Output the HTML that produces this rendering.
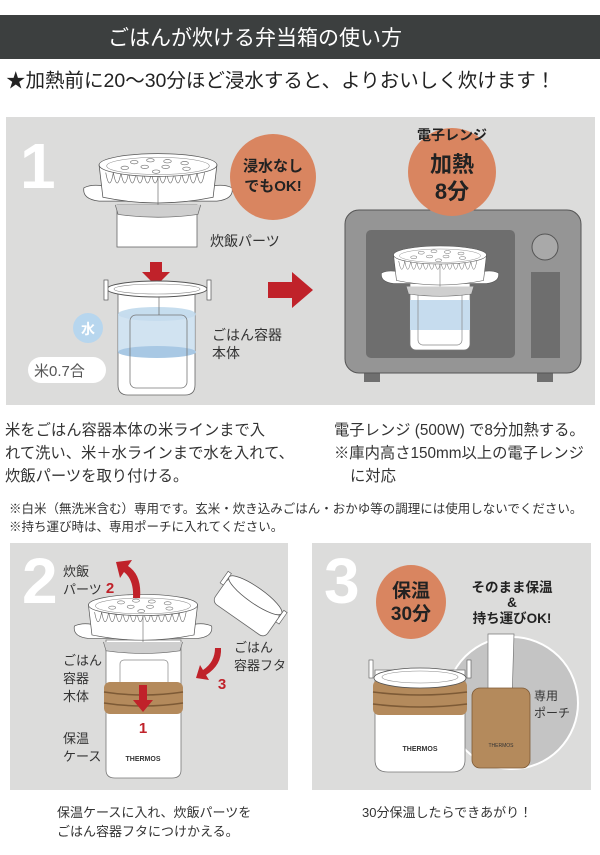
<!DOCTYPE html>
<html><head><meta charset="utf-8"><style>
html,body{margin:0;padding:0;background:#fff;}
svg{display:block;font-family:"Liberation Sans","Noto Sans CJK JP",sans-serif;}
</style></head><body>
<svg width="600" height="855" viewBox="0 0 600 855" xmlns="http://www.w3.org/2000/svg">
<defs>
<g id="st">
  <path d="M-78,24 Q-80,36 -62,38 L62,38 Q80,36 78,24 Q70,20 58,22 L-58,22 Q-70,20 -78,24Z" fill="#fff" stroke="#555" stroke-width="0.8"/>
  <path d="M-62,0 L-58,34 Q0,46 58,34 L62,0Z" fill="#fff" stroke="#555" stroke-width="0.8"/>
  <path d="M-55,8 q4,22 8,0 q4,22 8,0 q4,22 8,0 q4,22 8,0 q4,22 8,0 q4,22 8,0 q4,22 8,0 q4,22 8,0 q4,22 8,0 q4,22 8,0 q4,22 8,0 q4,22 8,0 q4,22 8,0" fill="none" stroke="#666" stroke-width="0.7"/>
  <line x1="0" y1="10" x2="0" y2="42" stroke="#666" stroke-width="0.7"/>
  <ellipse cx="0" cy="0" rx="62" ry="12" fill="#fff" stroke="#555" stroke-width="0.8"/>
  <ellipse cx="0" cy="1" rx="54" ry="9" fill="none" stroke="#888" stroke-width="0.6"/>
  <g fill="none" stroke="#777" stroke-width="0.7">
   <ellipse cx="-25" cy="-3" rx="4" ry="1.8"/><ellipse cx="-8" cy="-5" rx="4" ry="1.8"/><ellipse cx="10" cy="-4" rx="4" ry="1.8"/><ellipse cx="28" cy="-2" rx="4" ry="1.8"/>
   <ellipse cx="-35" cy="3" rx="4" ry="1.8"/><ellipse cx="-14" cy="2" rx="4" ry="1.8"/><ellipse cx="8" cy="2" rx="4" ry="1.8"/><ellipse cx="30" cy="4" rx="4" ry="1.8"/>
   <ellipse cx="-2" cy="7" rx="4" ry="1.8"/>
  </g>
  <path d="M-45,42 L-42,52 Q0,58 42,52 L45,42" fill="#cfcfcf" stroke="#666" stroke-width="0.7"/>
</g>
</defs>

<rect x="0" y="15" width="600" height="44" fill="#3c3f3f"/>
<text x="108" y="45" fill="#fff" font-size="21">ごはんが炊ける弁当箱の使い方</text>
<text x="6" y="87" fill="#222" font-size="19.5">★加熱前に20～30分ほど浸水すると、よりおいしく炊けます！</text>

<rect x="6" y="117" width="589" height="288" fill="#dcdcdb"/>
<text x="20" y="188" fill="#fff" font-size="64" font-weight="bold">1</text>
<rect x="117" y="205" width="80" height="42" fill="#fff" stroke="#666" stroke-width="0.8"/>
<rect x="117" y="205" width="80" height="6" fill="#6b5a44"/>
<use href="#st" transform="translate(158,165) scale(0.95)"/>
<text x="210" y="246" font-size="14" fill="#333">炊飯パーツ</text>
<circle cx="273" cy="177" r="43" fill="#d98560"/>
<text x="273" y="171" font-size="15" font-weight="bold" text-anchor="middle" fill="#222">浸水なし</text>
<text x="273" y="191" font-size="15" font-weight="bold" text-anchor="middle" fill="#222">でもOK!</text>
<path d="M150,262 L162,262 L162,272 L170,272 L156,286 L142,272 L150,272Z" fill="#c0222a"/>
<path d="M118,292 L118,385 Q118,395 128,395 L185,395 Q195,395 195,385 L195,292" fill="#fff" stroke="#666" stroke-width="0.8"/>
<ellipse cx="157" cy="314" rx="39" ry="7" fill="#b8d4ea" opacity="0.8"/>
<rect x="118" y="314" width="77" height="38" fill="#c6dcee" opacity="0.8"/>
<ellipse cx="157" cy="352" rx="39" ry="6" fill="#a8c8e4"/>
<rect x="130" y="315" width="57" height="73" rx="6" fill="none" stroke="#777" stroke-width="0.8"/>
<ellipse cx="157" cy="289" rx="50" ry="8" fill="#fff" stroke="#555" stroke-width="1"/>
<ellipse cx="157" cy="289" rx="43" ry="5" fill="none" stroke="#888" stroke-width="0.6"/>
<rect x="104" y="280" width="4" height="20" fill="#fff" stroke="#555" stroke-width="0.7"/>
<rect x="207" y="280" width="4" height="20" fill="#fff" stroke="#555" stroke-width="0.7"/>
<line x1="159" y1="297" x2="159" y2="315" stroke="#666" stroke-width="0.7"/>
<circle cx="88" cy="328" r="15" fill="#b7d6ee"/>
<text x="88" y="334" font-size="14" font-weight="bold" text-anchor="middle" fill="#fff">水</text>
<rect x="28" y="357" width="78" height="26" rx="13" fill="#fff"/>
<text x="34" y="376" font-size="15" fill="#555">米0.7合</text>
<text x="212" y="340" font-size="14" fill="#333">ごはん容器</text>
<text x="212" y="358" font-size="14" fill="#333">本体</text>
<path d="M268,282 L292,282 L292,272 L313,290 L292,308 L292,298 L268,298Z" fill="#c0222a"/>
<rect x="364" y="368" width="16" height="14" fill="#6f6f6f"/>
<rect x="537" y="368" width="16" height="14" fill="#6f6f6f"/>
<rect x="345" y="210" width="236" height="163" rx="14" fill="#959595" stroke="#555" stroke-width="1"/>
<rect x="366" y="230" width="149" height="128" rx="5" fill="#6e6e6e"/>
<circle cx="545" cy="247" r="13" fill="#a9a9a9" stroke="#555" stroke-width="1"/>
<rect x="531" y="272" width="29" height="86" fill="#6e6e6e"/>
<rect x="410" y="272" width="60" height="78" rx="6" fill="#fff" stroke="#777" stroke-width="0.7"/>
<rect x="410" y="300" width="60" height="30" fill="#c6dcee"/>
<rect x="418" y="287" width="44" height="58" rx="5" fill="none" stroke="#888" stroke-width="0.7"/>
<use href="#st" transform="translate(440,255) scale(0.75)"/>
<circle cx="452" cy="172" r="44" fill="#d98560"/>
<text x="452" y="140" font-size="14" font-weight="bold" text-anchor="middle" fill="#222">電子レンジ</text>
<text x="452" y="172" font-size="22" font-weight="bold" text-anchor="middle" fill="#222">加熱</text>
<text x="452" y="199" font-size="22" font-weight="bold" text-anchor="middle" fill="#222">8分</text>

<g font-size="15.3" fill="#333">
<text x="5" y="435">米をごはん容器本体の米ラインまで入</text>
<text x="5" y="458">れて洗い、米＋水ラインまで水を入れて、</text>
<text x="5" y="481">炊飯パーツを取り付ける。</text>
<text x="334" y="435">電子レンジ (500W) で8分加熱する。</text>
<text x="334" y="458">※庫内高さ150mm以上の電子レンジ</text>
<text x="350" y="481">に対応</text>
</g>
<g font-size="12.5" fill="#333">
<text x="9" y="513">※白米（無洗米含む）専用です。玄米・炊き込みごはん・おかゆ等の調理には使用しないでください。</text>
<text x="9" y="531">※持ち運び時は、専用ポーチに入れてください。</text>
</g>

<rect x="10" y="543" width="278" height="247" fill="#dcdcdb"/>
<text x="22" y="603" fill="#fff" font-size="64" font-weight="bold">2</text>
<g font-size="13" fill="#333">
<text x="63" y="576">炊飯</text><text x="63" y="594">パーツ</text>
<text x="63" y="665">ごはん</text><text x="63" y="683">容器</text><text x="63" y="701">木体</text>
<text x="63" y="743">保温</text><text x="63" y="761">ケース</text>
<text x="234" y="652">ごはん</text><text x="234" y="670">容器フタ</text>
</g>
<path d="M106,640 L106,770 Q106,778 115,778 L172,778 Q181,778 181,770 L181,640Z" fill="#fff" stroke="#777" stroke-width="0.8"/>
<rect x="120" y="660" width="48" height="38" rx="4" fill="#fff" stroke="#888" stroke-width="0.7"/>
<rect x="104" y="682" width="79" height="32" rx="6" fill="#b48a5c"/>
<path d="M104,692 Q143,698 183,692 M104,703 Q143,709 183,703" stroke="#7d5a36" stroke-width="1.5" fill="none"/>
<text x="143" y="761" font-size="7" text-anchor="middle" fill="#333" font-weight="bold">THERMOS</text>
<use href="#st" transform="translate(143,605) scale(0.88)"/>
<path d="M139,685 L147,685 L147,700 L153,700 L143,712 L133,700 L139,700Z" fill="#c0222a"/>
<text x="143" y="733" font-size="15" font-weight="bold" text-anchor="middle" fill="#c0222a">1</text>
<path d="M140,598 Q142,575 128,566 L132,560 L116,562 L120,578 L124,572 Q134,580 133,598Z" fill="#c0222a"/>
<text x="110" y="593" font-size="15" font-weight="bold" text-anchor="middle" fill="#c0222a">2</text>
<path d="M221,648 Q222,665 206,675 L209,680 L196,678 L200,665 L203,670 Q215,662 215,648Z" fill="#c0222a"/>
<text x="222" y="689" font-size="15" font-weight="bold" text-anchor="middle" fill="#c0222a">3</text>
<g transform="translate(245,610) rotate(35)">
<rect x="-32" y="-18" width="64" height="30" rx="6" fill="#fff" stroke="#666" stroke-width="0.8"/>
<ellipse cx="0" cy="-18" rx="32" ry="8" fill="#fff" stroke="#555" stroke-width="0.8"/>
<rect x="-36" y="-22" width="4" height="14" fill="#fff" stroke="#555" stroke-width="0.6"/>
<rect x="32" y="-22" width="4" height="14" fill="#fff" stroke="#555" stroke-width="0.6"/>
</g>
<g font-size="13" fill="#333">
<text x="57" y="817">保温ケースに入れ、炊飯パーツを</text>
<text x="57" y="836">ごはん容器フタにつけかえる。</text>
</g>

<rect x="312" y="543" width="279" height="247" fill="#dcdcdb"/>
<text x="324" y="603" fill="#fff" font-size="64" font-weight="bold">3</text>
<ellipse cx="411" cy="602" rx="35" ry="37" fill="#d98560"/>
<text x="411" y="597" font-size="19" font-weight="bold" text-anchor="middle" fill="#222">保温</text>
<text x="411" y="620" font-size="19" font-weight="bold" text-anchor="middle" fill="#222">30分</text>
<g font-size="13.5" font-weight="bold" fill="#222" text-anchor="middle">
<text x="512" y="592">そのまま保温</text>
<text x="512" y="607">&amp;</text>
<text x="512" y="623">持ち運びOK!</text>
</g>
<circle cx="512" cy="703" r="66" fill="#c4c4c4" stroke="#fff" stroke-width="2"/>
<path d="M488,634 L488,700 L512,700 L514,634Z" fill="#fff" stroke="#777" stroke-width="0.7"/>
<rect x="472" y="688" width="58" height="80" rx="8" fill="#b48a5c" stroke="#7d5a36" stroke-width="0.8"/>
<text x="501" y="747" font-size="5" text-anchor="middle" fill="#333">THERMOS</text>
<text x="534" y="700" font-size="12" fill="#333">専用</text>
<text x="534" y="717" font-size="12" fill="#333">ポーチ</text>
<path d="M375,670 L375,760 Q375,772 388,772 L452,772 Q465,772 465,760 L465,670Z" fill="#fff" stroke="#777" stroke-width="0.8"/>
<rect x="373" y="680" width="94" height="35" rx="6" fill="#b48a5c"/>
<path d="M373,692 Q420,698 467,692 M373,704 Q420,710 467,704" stroke="#7d5a36" stroke-width="1.5" fill="none"/>
<ellipse cx="420" cy="678" rx="46" ry="10" fill="#fff" stroke="#555" stroke-width="0.8"/>
<ellipse cx="420" cy="677" rx="38" ry="6" fill="none" stroke="#888" stroke-width="0.6"/>
<rect x="369" y="660" width="4" height="18" fill="#fff" stroke="#555" stroke-width="0.6"/>
<rect x="467" y="660" width="4" height="18" fill="#fff" stroke="#555" stroke-width="0.6"/>
<text x="420" y="751" font-size="7" text-anchor="middle" fill="#333" font-weight="bold">THERMOS</text>
<text x="362" y="817" font-size="13" fill="#333">30分保温したらできあがり！</text>
</svg>
</body></html>
